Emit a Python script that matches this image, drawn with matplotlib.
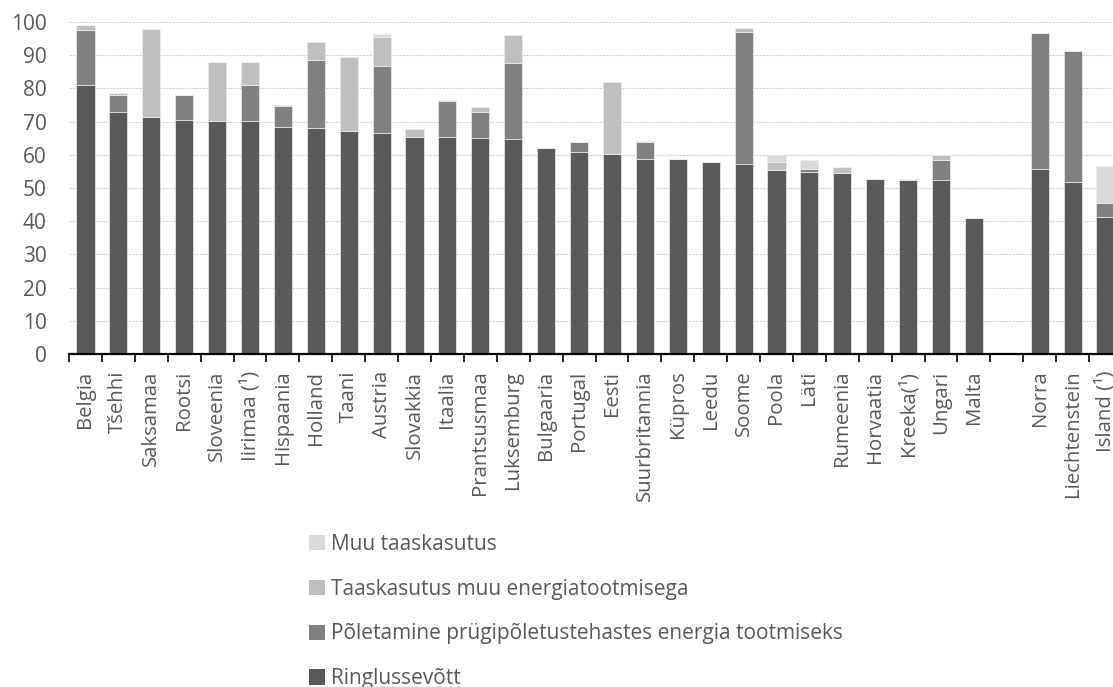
import matplotlib
matplotlib.use("Agg")
import matplotlib.pyplot as plt
import numpy as np
from matplotlib.patches import Patch

plt.rcParams['font.family'] = ['Open Sans', 'DejaVu Sans']

countries = ["Belgia", "Tšehhi", "Saksamaa", "Rootsi", "Sloveenia", "Iirimaa (¹)",
             "Hispaania", "Holland", "Taani", "Austria", "Slovakkia", "Itaalia",
             "Prantsusmaa", "Luksemburg", "Bulgaaria", "Portugal", "Eesti",
             "Suurbritannia", "Küpros", "Leedu", "Soome", "Poola", "Läti",
             "Rumeenia", "Horvaatia", "Kreeka(¹)", "Ungari", "Malta", "",
             "Norra", "Liechtenstein", "Island (¹)"]

ringlussevott = [81.1, 72.8, 71.4, 70.4, 70.3, 70.1, 68.5, 68.2, 67.2, 66.5,
                 65.3, 65.3, 65.1, 64.8, 62.0, 60.7, 60.1, 58.8, 58.6, 57.7,
                 57.3, 55.3, 54.7, 54.6, 52.7, 52.3, 52.3, 40.9, 0.0,
                 55.6, 51.7, 41.4]
poletamine = [16.6, 5.1, 0.0, 7.5, 0.0, 10.9, 6.1, 20.5, 0.0, 20.1,
              0.0, 10.9, 7.7, 23.0, 0.0, 3.2, 0.0, 5.0, 0.0, 0.0,
              39.8, 0.0, 0.9, 0.0, 0.0, 0.0, 6.2, 0.0, 0.0,
              41.1, 39.6, 4.2]
muu_energia = [1.5, 0.6, 26.5, 0.0, 17.7, 6.9, 0.4, 5.3, 22.3, 8.8,
               2.4, 0.3, 1.7, 8.4, 0.0, 0.0, 21.9, 0.3, 0.0, 0.0,
               1.2, 2.6, 0.0, 1.8, 0.0, 0.4, 1.3, 0.0, 0.0,
               0.0, 0.0, 0.0]
muu_taaskasutus = [0.0, 0.0, 0.0, 0.0, 0.0, 0.0, 0.0, 0.0, 0.0, 0.9,
                   0.0, 0.0, 0.0, 0.0, 0.0, 0.0, 0.0, 0.0, 0.0, 0.0,
                   0.0, 2.0, 2.7, 0.0, 0.0, 0.0, 0.0, 0.0, 0.0,
                   0.0, 0.0, 10.9]

series = [
    ("Ringlussevõtt", ringlussevott, "#595959"),
    ("Põletamine prügipõletustehastes energia tootmiseks", poletamine, "#808080"),
    ("Taaskasutus muu energiatootmisega", muu_energia, "#BFBFBF"),
    ("Muu taaskasutus", muu_taaskasutus, "#D9D9D9"),
]

text_color = "#595959"
W, H = 1113, 687
fig = plt.figure(figsize=(W / 100, H / 100), dpi=100)

# plot area runs past the right edge of the figure, so the last column is cut
left_px, right_px, top_px, bottom_px = 69, 1122, 22, 354
ax = fig.add_axes([left_px / W, 1 - bottom_px / H,
                   (right_px - left_px) / W, (bottom_px - top_px) / H])

x = np.arange(len(countries))
bottom = np.zeros(len(countries))
for name, vals, color in series:
    vals = np.array(vals)
    ax.bar(x, vals, width=0.55, bottom=bottom, color=color,
           edgecolor="#EDEDED", linewidth=0.5, label=name, zorder=3)
    bottom += vals

ax.set_xlim(-0.5, len(countries) - 0.5)
ax.set_ylim(0, 100)
ax.set_yticks(np.arange(0, 101, 10))
ax.yaxis.grid(True, color="#D0D0D0", linestyle=(0, (2, 1)), linewidth=0.8, zorder=0)
ax.tick_params(axis="y", length=0, labelsize=15, labelcolor=text_color, pad=16)

ax.set_xticks(x)
ax.set_xticklabels(countries, rotation=90, fontsize=14.7, color=text_color)
ax.set_xticks(np.arange(-0.5, len(countries), 1), minor=True)
ax.tick_params(axis="x", which="major", length=0, pad=12)
ax.tick_params(axis="x", which="minor", length=6, width=1.2, color="black")

for side in ("top", "right", "left"):
    ax.spines[side].set_visible(False)
ax.spines["bottom"].set_color("black")
ax.spines["bottom"].set_linewidth(1.6)
ax.spines["bottom"].set_zorder(4)

handles = [Patch(facecolor=c, edgecolor="none") for _, _, c in series][::-1]
labels = [n for n, _, _ in series][::-1]
fig.legend(handles, labels, loc="upper left", bbox_to_anchor=(309 / W, 1 - 534 / H),
           frameon=False, fontsize=15, labelcolor=text_color, borderpad=0,
           borderaxespad=0, handlelength=0.75, handleheight=0.75,
           handletextpad=0.3, labelspacing=1.14)

fig.savefig("out.png", dpi=100)
